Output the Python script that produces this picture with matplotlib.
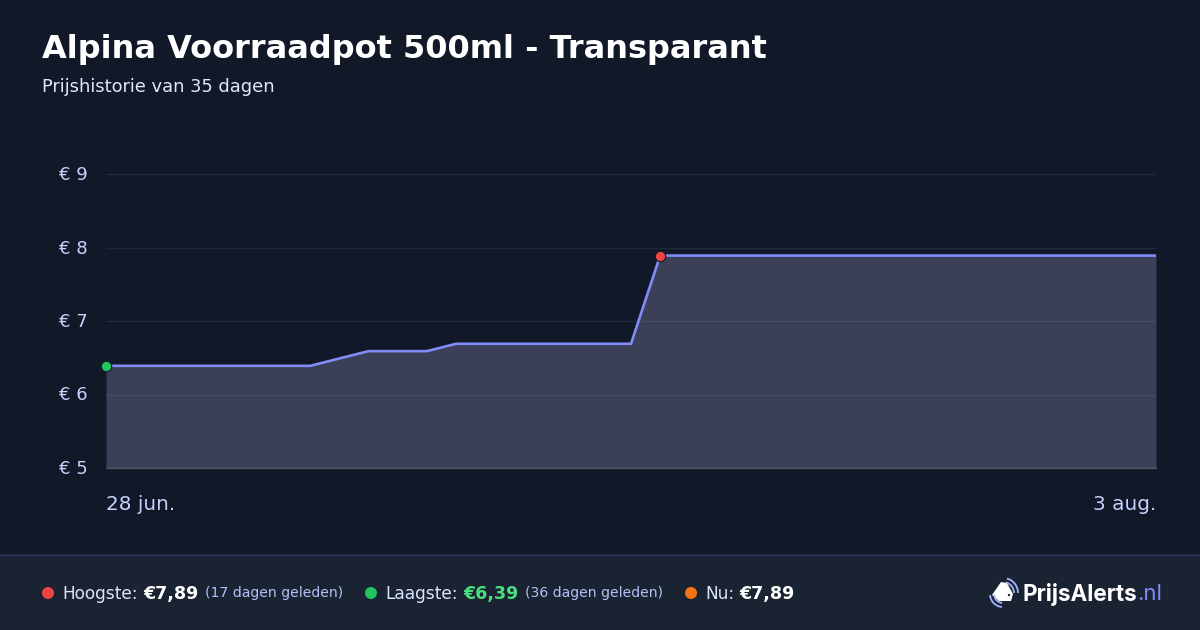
import matplotlib
matplotlib.use('Agg')
import matplotlib.pyplot as plt
from matplotlib.patches import Rectangle, Circle, Polygon, Arc
from matplotlib.transforms import ScaledTranslation

# days since 28 jun. where the price changes slope
days = [0, 7, 9, 11, 12, 18, 19, 36]
prices = [6.39, 6.39, 6.59, 6.59, 6.69, 6.69, 7.89, 7.89]
y_ticks = [5, 6, 7, 8, 9]
y_labels = ['€ 5', '€ 6', '€ 7', '€ 8', '€ 9']
low_point = (0, 6.39)
high_point = (19, 7.89)
date_labels = ['28 jun.', '3 aug.']

W, H = 1200, 630
BG = '#111827'
FOOT = '#1a2332'
LINE = '#818cf8'
FILL = '#3b3f57'
LABEL = '#c7d2fe'


def px(size):
    return size * 0.72


fig = plt.figure(figsize=(12, 6.3), dpi=100, facecolor=BG)

# overlay in pixel coordinates for header, footer and logo
ov = fig.add_axes([0, 0, 1, 1], zorder=0)
ov.set_xlim(0, W)
ov.set_ylim(H, 0)
ov.axis('off')
ov.add_patch(Rectangle((0, 554), W, 76, color=FOOT, lw=0))
ov.plot([0, W], [554.5, 554.5], color='#2a3260', lw=1)

ov.text(42, 46, 'Alpina Voorraadpot 500ml - Transparant', color='white',
        fontsize=px(32), fontweight='bold', va='center_baseline')
ov.text(42, 85.5, 'Prijshistorie van 35 dagen', color='#e0e7ff',
        fontsize=px(17.9), va='center_baseline')

# chart
ax = fig.add_axes([106 / W, 1 - 468 / H, 1050 / W, 294 / H], zorder=1)
ax.patch.set_alpha(0)
ax.set_xlim(days[0], days[-1])
ax.set_ylim(5, 9)
ax.fill_between(days, prices, 5, color=FILL, lw=0, zorder=1)
for t in y_ticks:
    ax.axhline(t, color='white', alpha=0.2 if t == 5 else 0.07, lw=1, zorder=2,
               clip_on=False)
ax.plot(days, prices, color=LINE, lw=1.9, zorder=3, solid_joinstyle='round')
for pt, col in [(low_point, '#22c55e'), (high_point, '#ef4444')]:
    ax.plot(*pt, 'o', ms=7.5, mfc=col, mec=BG, mew=0.8, zorder=5, clip_on=False)
for s in ax.spines.values():
    s.set_visible(False)
ax.set_xticks([])
ax.set_yticks(y_ticks)
ax.set_yticklabels(y_labels, color=LABEL, fontsize=px(18))
ax.tick_params(axis='y', length=0, pad=13)
shift = ScaledTranslation(0, 1 / 100, fig.dpi_scale_trans)
for lab in ax.get_yticklabels():
    lab.set_verticalalignment('center_baseline')
    lab.set_transform(lab.get_transform() + shift)

ov.text(106, 502, date_labels[0], color=LABEL, fontsize=px(20), va='center_baseline')
ov.text(1156, 502, date_labels[1], color=LABEL, fontsize=px(20), va='center_baseline',
        ha='right')

# footer stats
FY = 592
for x, col in [(48, '#ef4444'), (371, '#22c55e'), (691, '#f97316')]:
    ov.add_patch(Circle((x, FY + 1), 6, color=col, lw=0))
for x, s in [(62, 'Hoogste:'), (385, 'Laagste:'), (705, 'Nu:')]:
    ov.text(x, FY, s, color='#dbe4ff', fontsize=px(17), va='center_baseline')
for x, s, col in [(143, '€7,89', 'white'), (463, '€6,39', '#4ade80'), (739, '€7,89', 'white')]:
    ov.text(x, FY, s, color=col, fontsize=px(17.5), fontweight='bold', va='center_baseline')
for x, s in [(205, '(17 dagen geleden)'), (525, '(36 dagen geleden)')]:
    ov.text(x, FY, s, color='#b4c0f8', fontsize=px(14), va='center_baseline')

# logo
ov.add_patch(Polygon([(992, 595), (1001, 582), (1007, 583), (1013, 594), (1011, 601),
                      (999, 601)], closed=True, color='white', lw=0))
ov.add_patch(Circle((1009, 595), 1.2, color=FOOT, lw=0))
for r in (11, 15):
    ov.add_patch(Arc((1003, 593), 2 * r, 2 * r, theta1=-75, theta2=0, color='#a5b4fc', lw=1.3))
for r in (9, 13):
    ov.add_patch(Arc((1003, 594), 2 * r, 2 * r, theta1=95, theta2=175, color='#a5b4fc', lw=1.3))
ov.text(1022, 592, 'PrijsAlerts', color='white', fontsize=px(22.5), fontweight='bold',
        family='Inter', va='center_baseline')
ov.text(1137, 592, '.nl', color=LINE, fontsize=px(22), family='Inter', va='center_baseline')

fig.savefig('out.png', dpi=100, facecolor=BG)
